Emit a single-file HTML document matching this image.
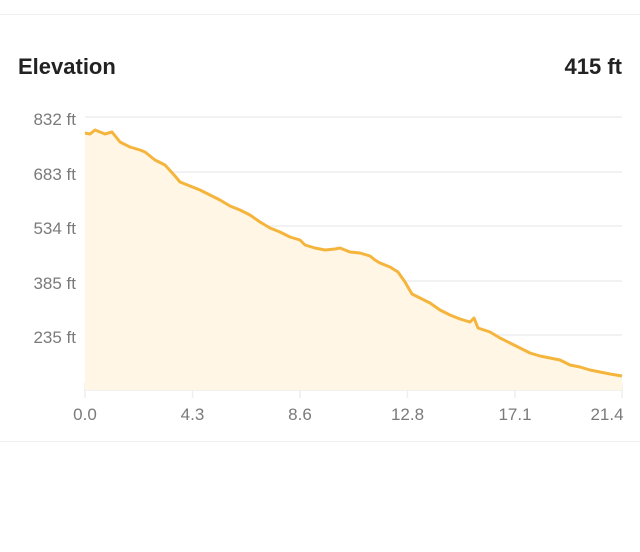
<!DOCTYPE html>
<html><head><style>
body{margin:0;width:640px;height:547px;background:#fff;font-family:"Liberation Sans",sans-serif;overflow:hidden}
</style></head><body>
<svg width="640" height="547" xmlns="http://www.w3.org/2000/svg">
<line x1="0" y1="14.5" x2="640" y2="14.5" stroke="#eeeeee"/>
<line x1="0" y1="441.5" x2="640" y2="441.5" stroke="#eeeeee"/>
<text x="18" y="74" font-size="22" font-weight="bold" fill="#222">Elevation</text>
<text x="622" y="74" font-size="22" font-weight="bold" fill="#222" text-anchor="end">415 ft</text>
<g stroke="#eeeeee" stroke-width="1.5">
<line x1="85" y1="117" x2="622" y2="117"/>
<line x1="85" y1="172" x2="622" y2="172"/>
<line x1="85" y1="226" x2="622" y2="226"/>
<line x1="85" y1="281" x2="622" y2="281"/>
<line x1="85" y1="335" x2="622" y2="335"/>
<line x1="85" y1="390" x2="622" y2="390"/>
<line x1="85" y1="383" x2="85" y2="398"/>
<line x1="192.5" y1="383" x2="192.5" y2="398"/>
<line x1="300" y1="383" x2="300" y2="398"/>
<line x1="407.5" y1="383" x2="407.5" y2="398"/>
<line x1="515" y1="383" x2="515" y2="398"/>
<line x1="622" y1="383" x2="622" y2="398"/>
</g>
<g font-size="17" fill="#7a7a7a" text-anchor="end">
<text x="76" y="125">832 ft</text>
<text x="76" y="180">683 ft</text>
<text x="76" y="234">534 ft</text>
<text x="76" y="289">385 ft</text>
<text x="76" y="343">235 ft</text>
</g>
<g font-size="17" fill="#7a7a7a" text-anchor="middle">
<text x="85" y="420">0.0</text>
<text x="192.5" y="420">4.3</text>
<text x="300" y="420">8.6</text>
<text x="407.5" y="420">12.8</text>
<text x="515" y="420">17.1</text>
<text x="607" y="420">21.4</text>
</g>
<path d="M85,133 L90,134 L95,130 L100,132 L105,134 L112,132 L120,142 L130,147 L140,150 L145,152 L155,160 L165,165 L175,176 L180,182 L190,186 L200,190 L210,195 L220,200 L230,206 L240,210 L250,215 L260,222 L270,228 L280,232 L290,237 L300,240 L305,245 L315,248 L325,250 L335,249 L340,248 L350,252 L360,253 L370,256 L375,260 L380,263 L390,267 L398,272 L405,282 L412,294 L420,298 L430,303 L440,310 L450,315 L460,319 L470,322 L474,318 L478,328 L490,332 L500,338 L510,343 L520,348 L530,353 L540,356 L550,358 L560,360 L570,365 L580,367 L590,370 L600,372 L610,374 L622,376 L622,390 L85,390 Z" fill="#fff6e6" stroke="none"/>
<path d="M85,133 L90,134 L95,130 L100,132 L105,134 L112,132 L120,142 L130,147 L140,150 L145,152 L155,160 L165,165 L175,176 L180,182 L190,186 L200,190 L210,195 L220,200 L230,206 L240,210 L250,215 L260,222 L270,228 L280,232 L290,237 L300,240 L305,245 L315,248 L325,250 L335,249 L340,248 L350,252 L360,253 L370,256 L375,260 L380,263 L390,267 L398,272 L405,282 L412,294 L420,298 L430,303 L440,310 L450,315 L460,319 L470,322 L474,318 L478,328 L490,332 L500,338 L510,343 L520,348 L530,353 L540,356 L550,358 L560,360 L570,365 L580,367 L590,370 L600,372 L610,374 L622,376" fill="none" stroke="#f5b53d" stroke-width="3" stroke-linejoin="round"/>
</svg>
</body></html>
